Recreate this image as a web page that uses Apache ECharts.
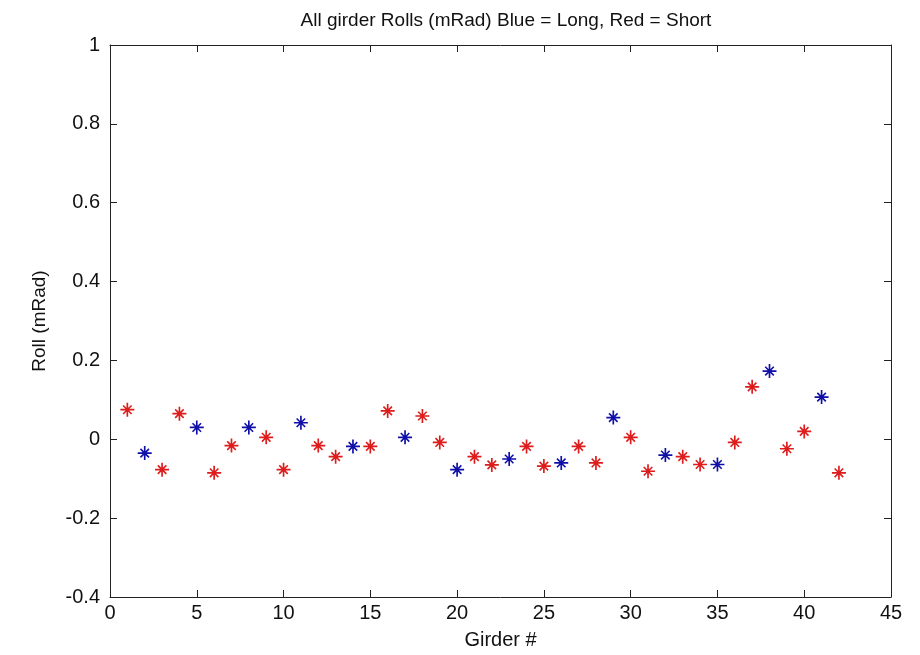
<html>
<head>
    <meta http-equiv="Content-Type" content="text/html; charset=utf-8" />
    <title>All girder Rolls</title>
    <script src="https://cdn.jsdelivr.net/npm/echarts@6/dist/echarts.min.js"></script>
</head>
<body style="padding:0px;margin:0px;overflow:hidden;background:#fff;">
<div id="main" style="width:920px;height:655px;"></div>
<script type="text/javascript">
    // long girders (blue) and short girders (red), roll in mRad
    var longGirders = [2, 5, 8, 11, 14, 17, 20, 23, 26, 29, 32, 35, 38, 41];
    var longRolls = [-0.035, 0.030, 0.030, 0.042, -0.018, 0.005, -0.077, -0.050, -0.060, 0.055, -0.040, -0.064, 0.173, 0.107];

    var shortGirders = [1, 3, 4, 6, 7, 9, 10, 12, 13, 15, 16, 18, 19, 21, 22, 24, 25, 27, 28,
        30, 31, 33, 34, 36, 37, 39, 40, 42];
    var shortRolls = [0.075, -0.077, 0.065, -0.085, -0.016, 0.005, -0.077, -0.016, -0.044, -0.018, 0.072, 0.059, -0.008,
        -0.044, -0.065, -0.018, -0.068, -0.018, -0.060, 0.005, -0.081, -0.044, -0.064, -0.008, 0.133, -0.024, 0.020, -0.085];

    var xTicks = [0, 5, 10, 15, 20, 25, 30, 35, 40, 45];
    var yTicks = [-0.4, -0.2, 0, 0.2, 0.4, 0.6, 0.8, 1];

    // asterisk marker like matlab '*'
    var star = 'path://M-1.2,-10 L1.2,-10 L1.2,10 L-1.2,10 Z M-10,-1.2 L10,-1.2 L10,1.2 L-10,1.2 Z ' +
        'M-5.3,-6.9 L6.9,5.3 L5.3,6.9 L-6.9,-5.3 Z M6.9,-5.3 L-5.3,6.9 L-6.9,5.3 L5.3,-6.9 Z';

    function pairs(xs, ys) {
        var out = [];
        for (var i = 0; i < xs.length; i++) out.push([xs[i], ys[i]]);
        return out;
    }

    var font = 'Liberation Sans';
    var lineCol = '#222';

    var xBase = {
        type: 'value',
        min: xTicks[0],
        max: xTicks[xTicks.length - 1],
        interval: 5,
        splitLine: {show: false},
        axisLine: {show: true, onZero: false, lineStyle: {color: lineCol, width: 1}},
        axisTick: {show: true, inside: true, length: 7, lineStyle: {color: lineCol}}
    };
    var yBase = {
        type: 'value',
        min: yTicks[0],
        max: yTicks[yTicks.length - 1],
        interval: 0.2,
        splitLine: {show: false},
        axisLine: {show: true, onZero: false, lineStyle: {color: lineCol, width: 1}},
        axisTick: {show: true, inside: true, length: 7, lineStyle: {color: lineCol}}
    };

    var myChart = echarts.init(document.getElementById('main'), null, {renderer: 'canvas'});

    var option = {
        animation: false,
        backgroundColor: '#fff',
        title: {
            text: 'All girder Rolls (mRad) Blue = Long, Red = Short',
            left: 501,
            top: 6,
            textAlign: 'center',
            textStyle: {fontFamily: font, fontSize: 19, fontWeight: 'normal', color: '#111'}
        },
        grid: {left: 110, top: 45, right: 29, bottom: 54},
        xAxis: [
            Object.assign({}, xBase, {
                position: 'bottom',
                name: 'Girder #',
                nameLocation: 'middle',
                nameGap: 33,
                nameTextStyle: {fontFamily: font, fontSize: 20, color: '#111'},
                axisLabel: {margin: 6, fontFamily: font, fontSize: 20, color: '#111'}
            }),
            Object.assign({}, xBase, {position: 'top', axisLabel: {show: false}})
        ],
        yAxis: [
            Object.assign({}, yBase, {
                position: 'left',
                name: 'Roll (mRad)',
                nameLocation: 'middle',
                nameGap: 61,
                nameTextStyle: {fontFamily: font, fontSize: 19, color: '#111'},
                axisLabel: {
                    margin: 10, fontFamily: font, fontSize: 20, color: '#111',
                    formatter: function (v) { return String(Number(v.toFixed(1))); }
                }
            }),
            Object.assign({}, yBase, {position: 'right', axisLabel: {show: false}})
        ],
        series: [
            {
                name: 'Short',
                type: 'scatter',
                symbol: star,
                symbolSize: 14,
                itemStyle: {color: '#dd1c1c', opacity: 1},
                data: pairs(shortGirders, shortRolls)
            },
            {
                name: 'Long',
                type: 'scatter',
                symbol: star,
                symbolSize: 14,
                itemStyle: {color: '#1010a8', opacity: 1},
                data: pairs(longGirders, longRolls)
            }
        ]
    };

    myChart.setOption(option);
</script>
</body>
</html>
